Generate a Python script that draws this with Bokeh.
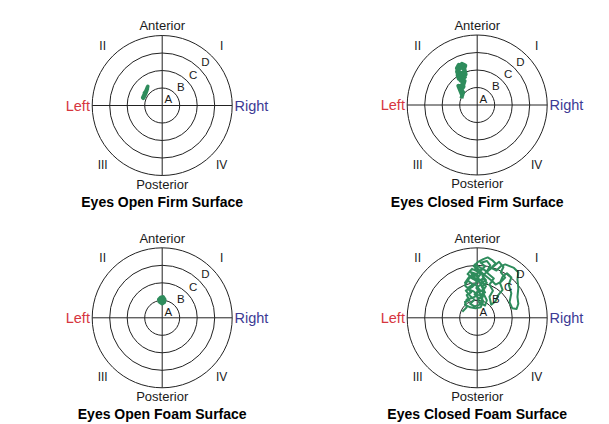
from bokeh.plotting import figure
from bokeh.layouts import column, row
from bokeh.models import Range1d, ColumnDataSource
from bokeh.core.properties import value
from bokeh.embed import file_html
from bokeh.resources import INLINE

# ---------------- data (ring units: A=1, B=2, C=3, D=4) ----------------
ring_radii = [1, 2, 3, 4]
ring_labels = ["A", "B", "C", "D"]
quadrant_labels = ["I", "II", "III", "IV"]
direction_labels = ["Anterior", "Posterior", "Left", "Right"]
titles = ["Eyes Open Firm Surface", "Eyes Closed Firm Surface",
          "Eyes Open Foam Surface", "Eyes Closed Foam Surface"]

eo_firm_x = [-1.10, -1.05, -0.98, -1.02, -0.95, -0.90, -0.86, -0.82, -0.85, -0.92,
             -0.97, -1.04, -1.12, -1.08, -1.00, -0.93, -0.88, -0.84, -0.90, -0.98]
eo_firm_y = [0.38, 0.50, 0.62, 0.72, 0.80, 0.92, 1.02, 1.10, 0.98, 0.86,
             0.74, 0.62, 0.45, 0.40, 0.55, 0.70, 0.85, 0.96, 0.82, 0.66]

ec_firm_x = [-0.90, -0.86, -0.80, -0.95, -1.00, -0.78, -0.72, -1.05, -1.12, -0.85,
             -0.70, -0.95, -1.15, -1.10, -0.88, -0.68, -0.75, -1.05, -1.16, -0.98,
             -0.80, -0.66, -0.72, -0.92, -1.10, -1.02, -0.85, -0.78, -0.95, -1.08,
             -0.90, -0.82]
ec_firm_y = [0.38, 0.55, 0.72, 0.90, 1.05, 1.20, 1.38, 1.50, 1.70, 1.85,
             1.60, 1.40, 1.90, 2.15, 2.35, 2.25, 2.05, 2.30, 2.10, 1.80,
             1.55, 1.75, 2.00, 2.20, 1.95, 1.65, 1.30, 1.05, 0.80, 1.10,
             0.65, 0.50]

eo_foam_x = [-0.18, -0.10, 0.05, 0.15, 0.12, 0.00, -0.15, -0.20, -0.08, 0.08,
             0.14, 0.02, -0.12, -0.05, 0.10]
eo_foam_y = [0.85, 1.15, 1.20, 1.05, 0.88, 0.80, 0.90, 1.05, 1.18, 1.12,
             0.95, 0.86, 0.98, 1.10, 1.00]

ec_foam_x = [-0.85, -0.60, -0.70, -0.45, -0.60, -0.35, -0.55, -0.25, -0.50, -0.70,
             -0.45, -0.20, -0.35, -0.05, 0.10, -0.10, 0.15, -0.15, 0.10, 0.35,
             0.20, 0.45, 0.55, 0.30, 0.50, 0.25, 0.40, 0.10, -0.20, 0.05,
             0.35, 0.60, 0.85, 1.05, 0.80, 1.10, 1.35, 1.60, 1.85, 2.10,
             2.35, 2.30, 2.35, 2.30, 2.35, 2.25, 2.00, 1.85, 1.95, 1.80,
             1.95, 1.70, 1.45, 1.30, 1.45, 1.20, 1.05, 0.80, 0.70, 0.90,
             0.70, 0.95, 0.65, 0.35, 0.00, -0.30, -0.55, -0.30, 0.00, -0.30,
             -0.65, -0.40, -0.15, -0.40, -0.15, 0.15, 0.05, 0.30, 0.10, 0.40,
             0.20, 0.50, 0.30, 0.65, 0.95, 1.25, 1.50, 1.35, 1.60, 1.35,
             1.05, 0.85, 0.60, 0.30, 0.00, -0.25, -0.50, -0.70, -0.45, -0.20,
             0.05, -0.25, -0.60, -0.70, -0.40, -0.10, 0.20, 0.35, 0.15, 0.45,
             0.25, 0.55, 0.35, 0.05, -0.20, 0.10, 0.45, 0.20, 0.55, 0.75,
             0.55, 0.20, -0.15, -0.10, 0.20, -0.05, 0.25, -0.05, 0.20]
ec_foam_y = [0.35, 0.60, 0.90, 1.00, 1.30, 1.45, 1.70, 1.90, 2.10, 2.00,
             2.35, 2.20, 2.60, 2.50, 2.20, 1.90, 1.60, 1.35, 1.10, 1.30,
             0.85, 0.70, 1.00, 1.50, 1.80, 2.10, 2.45, 2.75, 2.95, 3.20,
             3.35, 3.45, 3.30, 3.10, 2.85, 2.70, 2.95, 3.05, 2.95, 2.85,
             2.60, 2.20, 1.70, 1.20, 0.80, 0.50, 0.55, 0.90, 1.40, 1.90,
             2.30, 2.55, 2.35, 2.00, 1.60, 1.30, 0.95, 0.75, 1.20, 1.55,
             1.90, 2.25, 2.50, 2.80, 2.65, 2.80, 2.50, 2.30, 2.05, 1.75,
             1.55, 1.25, 1.05, 0.80, 0.65, 0.75, 1.05, 1.20, 1.45, 1.65,
             1.95, 2.15, 2.40, 2.70, 2.95, 3.20, 2.90, 2.60, 2.30, 2.05,
             1.90, 2.10, 2.30, 2.55, 2.35, 2.50, 2.20, 1.85, 1.60, 1.50,
             1.30, 1.15, 1.05, 0.75, 0.60, 0.55, 0.60, 0.95, 1.30, 1.45,
             1.80, 2.00, 2.25, 2.10, 2.35, 2.60, 2.95, 3.15, 3.25, 3.00,
             2.65, 2.85, 3.05, 2.75, 2.50, 2.20, 1.95, 1.70, 1.45]

traces = [(eo_firm_x, eo_firm_y, 3.5), (ec_firm_x, ec_firm_y, 4.0),
          (eo_foam_x, eo_foam_y, 3.5), (ec_foam_x, ec_foam_y, 2.0)]

# ---------------- style ----------------
FONT = "Liberation Sans"
GREEN = "#2e8c5c"
RED = "#d6363e"
BLUE = "#3c3a94"
INK = "#1a1a1a"
SCALE = 17.5  # px per ring unit


def make_panel(idx, width, height, cx, cy):
    x0 = -cx / SCALE
    x1 = (width - cx) / SCALE
    y1 = cy / SCALE
    y0 = -(height - cy) / SCALE
    p = figure(width=width, height=height, output_backend="svg",
               toolbar_location=None, x_range=Range1d(x0, x1),
               y_range=Range1d(y0, y1), min_border=0)
    p.axis.visible = False
    p.grid.visible = False
    p.outline_line_color = None
    p.background_fill_color = "white"
    p.border_fill_color = "white"

    p.ellipse(x=[0] * 4, y=[0] * 4, width=[2 * r for r in ring_radii],
              height=[2 * r for r in ring_radii], fill_color=None,
              line_color="#222222", line_width=1)
    R = ring_radii[-1]
    p.segment(x0=[-R, 0], y0=[0, -R], x1=[R, 0], y1=[0, R],
              line_color="#222222", line_width=1)

    tx, ty, lw = traces[idx]
    p.line(tx, ty, line_color=GREEN, line_width=lw, line_join="round")

    xs, ys, txt, col, size, align, style = [], [], [], [], [], [], []

    def add(x, y, t, c, s, a="center", st="normal"):
        xs.append(x); ys.append(y); txt.append(t); col.append(c)
        size.append(s); align.append(a); style.append(st)

    # ring letters along 45 degrees, at mid-ring
    for r, lab in zip(ring_radii, ring_labels):
        d = (r - 0.5) * 0.7071
        add(d, d, lab, INK, "11.5px")
    q = 3.4
    for (qx, qy), lab in zip([(q, q), (-q, q), (-q, -q), (q, -q)], quadrant_labels):
        add(qx, qy, lab, INK, "12px")
    add(0, 4.55, direction_labels[0], INK, "13px")
    add(0, -4.5, direction_labels[1], INK, "13px")
    add(-4.13, 0, direction_labels[2], RED, "14.5px", "right")
    add(4.13, 0, direction_labels[3], BLUE, "14.5px", "left")
    add(0, -5.52, titles[idx], "#000000", "14px", "center", "bold")

    src = ColumnDataSource(dict(x=xs, y=ys, text=txt, color=col, size=size,
                                align=align, style=style))
    p.text(x="x", y="y", text="text", source=src, text_font=value(FONT),
           text_font_size="size", text_color="color", text_align="align",
           text_font_style="style", text_baseline="middle")
    return p


p1 = make_panel(0, 304, 212, 161.7, 105)
p2 = make_panel(1, 305, 212, 172.7, 104.5)
p3 = make_panel(2, 304, 212, 161.7, 105.3)
p4 = make_panel(3, 305, 212, 172.7, 105.3)

p = column(row(p1, p2, spacing=0), row(p3, p4, spacing=0), spacing=0)

open("out.html", "w").write(file_html(p, INLINE))
